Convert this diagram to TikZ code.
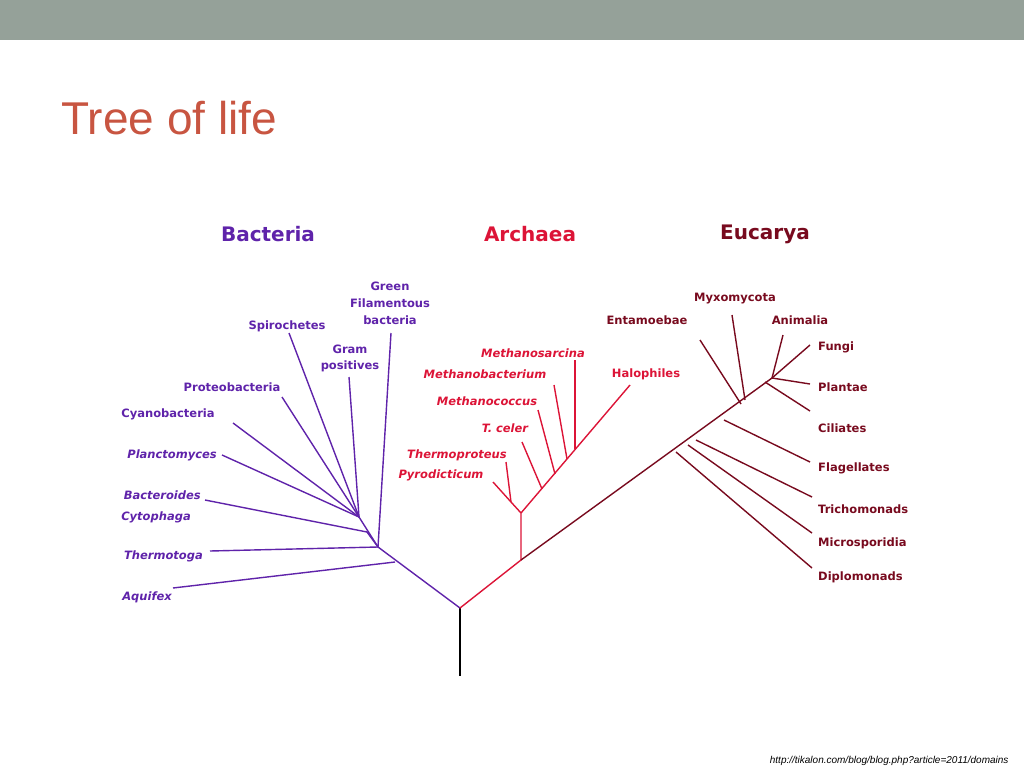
\documentclass[tikz,border=0pt]{standalone}
\usepackage{fontspec}
\setmainfont{DejaVu Sans}
\newfontfamily\titlefont{Liberation Sans}
\definecolor{bact}{RGB}{95,35,170}
\definecolor{arch}{RGB}{220,20,55}
\definecolor{euca}{RGB}{120,10,30}
\definecolor{bar}{RGB}{149,161,153}
\definecolor{ttl}{RGB}{200,85,65}

\begin{document}
\begin{tikzpicture}[x=1pt,y=-1pt,
    lbl/.style={font=\fontsize{11.5}{13}\selectfont\bfseries,inner sep=0pt},
    ital/.style={lbl,font=\fontsize{11.5}{13}\selectfont\bfseries\itshape},
    head/.style={font=\fontsize{20}{24}\selectfont\bfseries},
    br/.style={line width=1.4pt}]
    \useasboundingbox (0,0) rectangle (1024,768);
    \fill[bar] (0,0) rectangle (1024,40);
    \node[anchor=west,text=ttl,font=\titlefont\fontsize{46}{50}\selectfont] (title) at (58,118) {Tree of life};
    \node[anchor=east,font=\titlefont\itshape\fontsize{10}{12}\selectfont] (src) at (1012,761) {http://tikalon.com/blog/blog.php?article=2011/domains};

    \node[head,text=bact] (bacteria) at (268,234) {Bacteria};
    \node[head,text=arch] (archaea) at (530,234) {Archaea};
    \node[head,text=euca] (eucarya) at (765,234) {Eucarya};

    % root
    \coordinate (root) at (460,608);
    \coordinate (base) at (460,676);
    \draw[br,black] (root)--(base);

    % bacteria
    \begin{scope}[bact,text=bact]
    \coordinate (b1) at (378,547);
    \coordinate (b0) at (395,562);
    \coordinate (b2) at (359,517);
    \draw[br] (root)--(b1)--(b2);
    \node[ital,anchor=east] (aquifex) at (172,597) {Aquifex};
    \node[ital,anchor=east] (thermotoga) at (203,556) {Thermotoga};
    \node[ital,anchor=east] (bacteroides) at (201,495) {Bacteroides};
    \node[ital,anchor=east] (cytophaga) at (191,517) {Cytophaga};
    \node[ital,anchor=east] (planctomyces) at (217,455) {Planctomyces};
    \node[lbl] (cyano) at (168,414) {Cyanobacteria};
    \node[lbl] (proteo) at (232,387) {Proteobacteria};
    \node[lbl] (spiro) at (287,326) {Spirochetes};
    \node[lbl,align=center] (gram) at (350,358) {Gram\\[3pt]positives};
    \node[lbl,align=center] (green) at (390,303) {Green\\[4pt]Filamentous\\[4pt]bacteria};
    \draw[br] (b0)--(173,588);
    \draw[br] (b1)--(210,551);
    \draw[br] (b1)--(391,333);
    \draw[br] (b1)--(367,532)--(205,500);
    \foreach \x/\y in {222/455,233/423,282/397,289/333,349/377}
      \draw[br] (b2)--(\x,\y);
    \end{scope}

    % archaea
    \begin{scope}[arch,text=arch]
    \coordinate (a1) at (521,560);
    \coordinate (a2) at (521,513);
    \coordinate (a3) at (511,502);
    \coordinate (halo) at (630,385);
    \draw[br] (root)--(a1)--(a2)--(halo);
    \draw[br] (a2)--(a3)--(493,482);
    \draw[br] (a3)--(506,462);
    \foreach \px/\py/\lx/\ly in {542/489/522/442,555/474/538/410,567/459/554/385,575/449/575/360}
      \draw[br] (\px,\py)--(\lx,\ly);
    \node[ital] (msarcina) at (533,353) {Methanosarcina};
    \node[ital] (mbact) at (485,374) {Methanobacterium};
    \node[lbl] (halophiles) at (646,374) {Halophiles};
    \node[ital] (mcoccus) at (487,401) {Methanococcus};
    \node[ital] (tceler) at (505,428) {T. celer};
    \node[ital] (thermoproteus) at (457,455) {Thermoproteus};
    \node[ital] (pyro) at (441,475) {Pyrodicticum};
    \end{scope}

    % eucarya
    \begin{scope}[euca,text=euca]
    \coordinate (e1) at (772,378);
    \coordinate (e2) at (741,404);
    \draw[br] (a1)--(e1);
    \draw[br] (e2)--(700,340);
    \draw[br] (745,400)--(732,315);
    \draw[br] (e1)--(783,335);
    \draw[br] (e1)--(810,345);
    \draw[br] (e1)--(810,384);
    \foreach \px/\py/\lx/\ly in {765/382/810/411,724/420/810/462,696/440/812/497,688/445/812/533,676/452/812/568}
      \draw[br] (\px,\py)--(\lx,\ly);
    \node[lbl] (myxo) at (735,299) {Myxomycota};
    \node[lbl] (entamoebae) at (647,320) {Entamoebae};
    \node[lbl] (animalia) at (800,320) {Animalia};
    \foreach \n/\t/\y in {fungi/Fungi/347,plantae/Plantae/387,ciliates/Ciliates/428,flag/Flagellates/468,tricho/Trichomonads/509,micro/Microsporidia/543,diplo/Diplomonads/577}
      \node[lbl,anchor=west] (\n) at (818,\y) {\t};
    \end{scope}
\end{tikzpicture}
\end{document}
